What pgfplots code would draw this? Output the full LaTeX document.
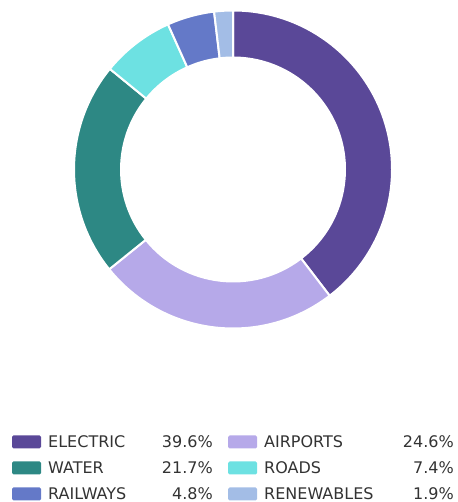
\documentclass[border=0pt]{standalone}
\usepackage{pgfplots}
\pgfplotsset{compat=1.18}
\usepackage{pgfplotstable}
\usepackage{fontspec}
\setmainfont{DejaVu Sans}
\definecolor{cElec}{HTML}{5A4898}
\definecolor{cAir}{HTML}{B6A9E9}
\definecolor{cWater}{HTML}{2D8884}
\definecolor{cRoads}{HTML}{6DE1E2}
\definecolor{cRail}{HTML}{6479C8}
\definecolor{cRen}{HTML}{A3BDE6}
\definecolor{txt}{HTML}{333333}
\pgfplotstableread[col sep=comma]{
name,value,color
ELECTRIC,39.6,cElec
AIRPORTS,24.6,cAir
WATER,21.7,cWater
ROADS,7.4,cRoads
RAILWAYS,4.8,cRail
RENEWABLES,1.9,cRen
}\datatable
\begin{document}
\begin{tikzpicture}
\useasboundingbox (0,0) rectangle (457pt,502pt);
\begin{axis}[at={(0,0)}, anchor=south west, x=1pt, y=1pt,
  xmin=0, xmax=457, ymin=0, ymax=502, scale only axis, hide axis, clip=false]
\pgfmathsetmacro\startang{90}
\pgfplotsforeachungrouped \i in {0,...,5}{%
  \pgfplotstablegetelem{\i}{value}\of\datatable \let\val\pgfplotsretval
  \pgfplotstablegetelem{\i}{color}\of\datatable \let\col\pgfplotsretval
  \pgfplotstablegetelem{\i}{name}\of\datatable \let\nm\pgfplotsretval
  \pgfmathsetmacro\endang{\startang-3.6*\val}
  \pgfmathtruncatemacro\colidx{mod(\i,2)}
  \pgfmathtruncatemacro\rowidx{floor(\i/2)}
  \pgfmathsetmacro\ly{60-26*\rowidx}
  \pgfmathsetmacro\sx{12+216*\colidx}
  \pgfmathsetmacro\sxx{\sx+29}
  \pgfmathsetmacro\tx{\sx+36}
  \pgfmathsetmacro\px{213+241*\colidx}
  \pgfmathsetmacro\sya{\ly-6.5}
  \pgfmathsetmacro\syb{\ly+6.5}
  \edef\temp{%
    \noexpand\fill[\col, draw=white, line width=2pt] (axis cs:233,332.5) ++(\startang:159pt)
      arc[start angle=\startang, end angle=\endang, radius=159pt]
      -- ++(\endang:-47pt)
      arc[start angle=\endang, end angle=\startang, radius=112pt] -- cycle;
    \noexpand\fill[\col, rounded corners=1.5pt] (axis cs:\sx,\sya) rectangle (axis cs:\sxx,\syb);
    \noexpand\node[anchor=west, inner sep=0pt, text=txt, font=\noexpand\fontsize{16}{19}\noexpand\selectfont] at (axis cs:\tx,\ly) {\nm};
    \noexpand\node[anchor=east, inner sep=0pt, text=txt, font=\noexpand\fontsize{16}{19}\noexpand\selectfont] at (axis cs:\px,\ly) {\val\noexpand\%};
  }%
  \temp
  \global\let\startang\endang
}
\end{axis}
\end{tikzpicture}
\end{document}
